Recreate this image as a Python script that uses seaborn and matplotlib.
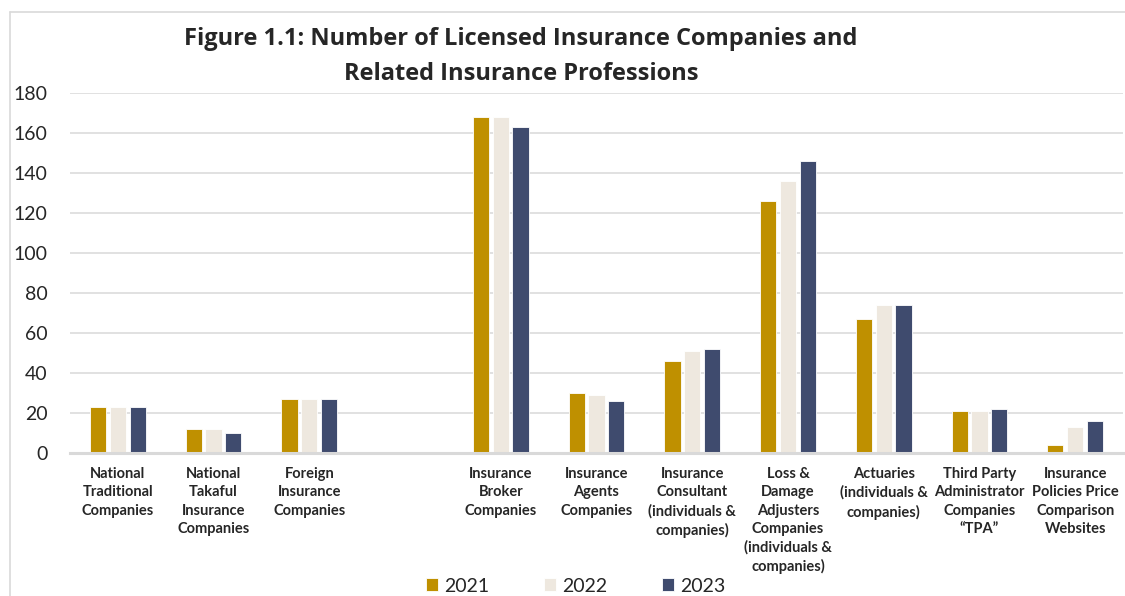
import pandas as pd
import seaborn as sns
from matplotlib import pyplot as plt
from matplotlib.lines import Line2D


# categories (the blank one is the empty slot between the two groups)
categories = ['National\nTraditional\nCompanies',
              'National\nTakaful\nInsurance\nCompanies',
              'Foreign\nInsurance\nCompanies',
              'Insurance\nBroker\nCompanies',
              'Insurance\nAgents\nCompanies',
              'Insurance\nConsultant\n(individuals &\ncompanies)',
              'Loss &\nDamage\nAdjusters\nCompanies\n(individuals &\ncompanies)',
              'Actuaries\n(individuals &\ncompanies)',
              'Third Party\nAdministrator\nCompanies\n\u201cTPA\u201d',
              'Insurance\nPolicies Price\nComparison\nWebsites']
order = categories[:3] + [' '] + categories[3:]
years = ['2021', '2022', '2023']
v2021 = [23, 12, 27, 168, 30, 46, 126, 67, 21, 4]
v2022 = [23, 12, 27, 168, 29, 51, 136, 74, 21, 13]
v2023 = [23, 10, 27, 163, 26, 52, 146, 74, 22, 16]
colors = ['#BF9000', '#EEE8DF', '#3F4B6E']

df = pd.DataFrame({
    'category': categories * 3,
    'year': [y for y in years for _ in categories],
    'count': v2021 + v2022 + v2023,
})

sns.set_style('white')
plt.rcParams['font.family'] = ['Lato', 'DejaVu Sans']

fig, ax = plt.subplots(figsize=(11.25, 5.96), dpi=100)
fig.subplots_adjust(left=70 / 1125, right=1123 / 1125,
                    bottom=1 - 453.3 / 596, top=1 - 93.3 / 596)

sns.barplot(data=df, x='category', y='count', hue='year', order=order,
            hue_order=years, palette=colors, saturation=1, width=0.62,
            gap=0.18, edgecolor='white', linewidth=0.6, errorbar=None, ax=ax)

ax.set_xlim(-0.5, 10.5)
ax.set_ylim(0, 180)
ax.set_yticks(range(0, 181, 20))
ax.set_xlabel('')
ax.set_ylabel('')
ax.yaxis.grid(True, color='#D9D9D9', lw=1.1)
ax.set_axisbelow(True)
for s in ['left', 'top', 'right']:
    ax.spines[s].set_visible(False)
ax.spines['bottom'].set_color('#D9D9D9')
ax.spines['bottom'].set_linewidth(2.2)
ax.tick_params(axis='y', length=0, pad=16, labelsize=14)
ax.tick_params(axis='x', length=0, pad=10)
for lab in ax.get_xticklabels():
    lab.set_fontsize(10.5)
    lab.set_fontweight('bold')
    lab.set_linespacing(1.38)
    lab.set_va('top')

title_font = ['Open Sans', 'DejaVu Sans']
fig.text(521 / 1125, 1 - 45 / 596,
         'Figure 1.1: Number of Licensed Insurance Companies and',
         ha='center', va='baseline', fontsize=17, fontweight='bold',
         family=title_font)
fig.text(521 / 1125, 1 - 80 / 596, 'Related Insurance Professions',
         ha='center', va='baseline', fontsize=17, fontweight='bold',
         family=title_font)

handles, labels = ax.get_legend_handles_labels()
ax.legend_.remove()
fig.legend(handles, labels, loc='center',
           bbox_to_anchor=(575.5 / 1125, 1 - 586 / 596), ncol=3,
           frameon=False, fontsize=14, handlelength=0.65, handleheight=0.65,
           handletextpad=0.3, columnspacing=2.8)

# chart border (cut off at right and bottom in the reference)
fig.add_artist(Line2D([10 / 1125, 1], [1 - 12 / 596, 1 - 12 / 596],
                      transform=fig.transFigure, color='#D9D9D9', lw=1.2))
fig.add_artist(Line2D([10 / 1125, 10 / 1125], [0, 1 - 12 / 596],
                      transform=fig.transFigure, color='#D9D9D9', lw=1.2))

fig.savefig('out.png', dpi=100)
